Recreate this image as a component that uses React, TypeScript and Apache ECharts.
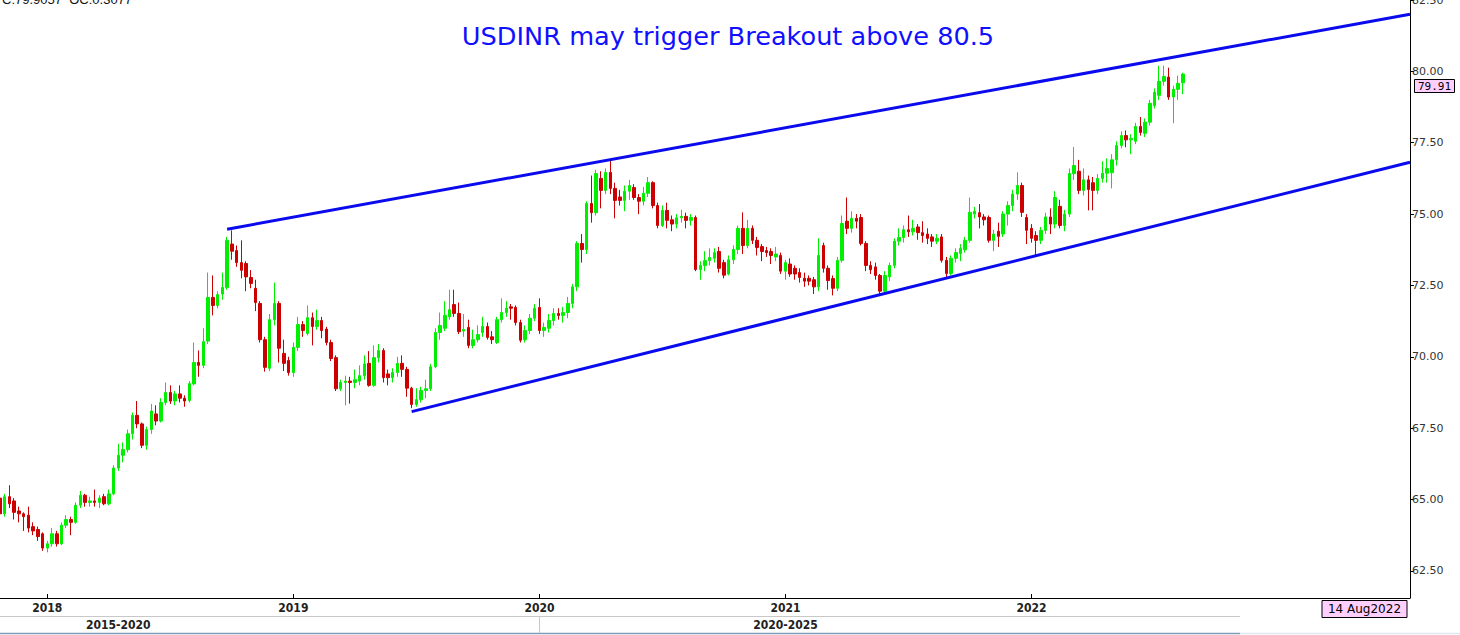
import React, { useEffect, useRef } from "react";
import * as echarts from "echarts";

const START_DATE = "2017-10-29";
const WEEK_COUNT = 299;
const headerText = "C:79.9057  OC:0.3077";
const titleText = "USDINR may trigger Breakout above 80.5";
const dateTag = "14 Aug2022";
const lastClose = 79.91;
const yTicks = [62.5, 65, 67.5, 70, 72.5, 75, 77.5, 80, 82.5];
const upperTrend = [[48, 74.47], [298, 82.0]];
const lowerTrend = [[87, 68.08], [298, 76.815]];
const periodLabels = ["2015-2020", "2020-2025"];
const periodLabelWeeks = [25, 166];
const periodBoundaryWeeks = [114];

// [open, close, low, high]
const candles: number[][] = [
  [65.05, 64.5, 64.35, 65.2], [64.5, 65.1, 64.4, 65.2], [65.1, 64.85, 64.7, 65.5], [64.95, 64.55, 64.3, 65.05],
  [64.6, 64.5, 64.2, 64.75], [64.5, 64.4, 63.9, 64.55], [64.45, 64.0, 63.85, 64.75], [64.05, 63.9, 63.75, 64.2],
  [63.95, 63.7, 63.55, 64.05], [63.8, 63.3, 63.2, 63.85], [63.3, 63.45, 63.15, 63.55], [63.45, 63.8, 63.35, 64.0],
  [63.8, 63.45, 63.35, 63.9], [63.45, 64.1, 63.4, 64.2], [64.1, 64.3, 64.0, 64.45], [64.3, 64.2, 63.75, 64.4],
  [64.2, 64.8, 64.15, 64.9], [64.8, 65.15, 64.7, 65.3], [65.15, 64.9, 64.75, 65.2], [64.9, 64.95, 64.75, 65.1],
  [64.95, 64.9, 64.75, 65.35], [64.9, 65.05, 64.7, 65.15], [65.1, 64.85, 64.8, 65.2], [64.85, 65.2, 64.8, 65.35],
  [65.2, 66.1, 65.15, 66.2], [66.1, 66.55, 66.0, 66.95], [66.55, 66.75, 66.3, 67.0], [66.75, 67.3, 66.65, 67.45],
  [67.3, 67.95, 67.1, 68.05], [67.95, 67.65, 67.5, 68.45], [67.65, 66.9, 66.8, 67.7], [66.9, 67.45, 66.75, 67.55],
  [67.45, 68.1, 67.3, 68.35], [68.0, 67.75, 67.6, 68.3], [67.75, 68.4, 67.7, 68.55], [68.4, 68.75, 68.3, 69.1],
  [68.75, 68.45, 68.35, 69.0], [68.45, 68.7, 68.3, 68.8], [68.7, 68.55, 68.4, 69.0], [68.55, 68.45, 68.25, 68.65],
  [68.47, 69.06, 68.4, 69.15], [69.05, 69.8, 69.0, 70.5], [69.8, 69.7, 69.3, 70.22], [69.7, 70.53, 69.6, 71.0],
  [70.55, 72.08, 70.45, 72.95], [72.08, 71.8, 71.45, 72.85], [71.8, 72.18, 71.7, 72.3], [72.2, 72.43, 72.0, 72.95],
  [72.43, 74.08, 72.35, 74.2], [73.95, 73.7, 73.4, 74.43], [73.72, 73.3, 73.15, 73.9], [73.3, 73.03, 72.75, 74.08],
  [73.27, 72.8, 72.3, 73.35], [72.78, 72.57, 72.4, 73.04], [72.4, 71.9, 71.6, 72.7], [71.87, 70.6, 70.5, 71.95],
  [70.6, 69.63, 69.48, 70.7], [69.6, 71.3, 69.5, 71.5], [71.3, 71.87, 71.1, 72.6], [71.87, 70.3, 69.8, 71.95],
  [70.12, 69.77, 69.5, 70.6], [69.87, 69.45, 69.34, 70.0], [69.45, 70.33, 69.3, 70.5], [70.33, 71.13, 70.2, 71.4],
  [71.13, 70.92, 70.7, 71.25], [70.82, 71.37, 70.75, 71.8], [71.37, 71.06, 70.4, 71.55], [71.06, 71.27, 70.95, 71.65],
  [71.27, 70.92, 70.65, 71.4], [70.97, 70.5, 70.4, 71.05], [70.5, 69.94, 69.85, 70.6], [69.97, 68.88, 68.8, 70.05],
  [68.88, 69.1, 68.8, 69.2], [69.1, 69.15, 68.3, 69.34], [69.15, 69.1, 68.36, 69.3], [69.1, 69.2, 68.9, 69.55],
  [69.15, 69.34, 69.0, 69.7], [69.34, 69.75, 69.2, 70.05], [69.77, 69.0, 68.95, 70.2], [69.0, 69.97, 68.95, 70.4],
  [69.97, 70.22, 69.8, 70.45], [70.22, 69.27, 69.1, 70.3], [69.4, 69.27, 69.0, 69.55], [69.27, 69.45, 69.1, 69.6],
  [69.45, 69.77, 69.3, 70.0], [69.77, 69.56, 69.3, 70.05], [69.56, 68.9, 68.6, 69.65], [68.9, 68.33, 68.2, 68.95],
  [68.33, 68.5, 68.25, 68.9], [68.5, 68.82, 68.4, 68.95], [68.82, 68.88, 68.55, 69.2], [68.88, 69.65, 68.8, 69.75],
  [69.65, 70.85, 69.6, 71.0], [70.85, 71.1, 70.6, 71.55], [71.0, 71.45, 70.9, 71.95], [71.4, 71.65, 71.3, 72.35],
  [71.83, 71.52, 71.4, 72.35], [71.52, 70.88, 70.8, 71.9], [70.9, 70.96, 70.7, 71.5], [71.03, 70.4, 70.3, 71.3],
  [70.4, 70.6, 70.3, 70.95], [70.6, 70.78, 70.5, 71.1], [70.85, 71.06, 70.7, 71.4], [71.06, 70.68, 70.6, 71.2],
  [70.7, 70.6, 70.45, 70.9], [70.5, 71.3, 70.45, 71.4], [71.3, 71.55, 71.2, 72.05], [71.55, 71.7, 71.4, 71.95],
  [71.75, 71.7, 71.3, 71.85], [71.73, 71.2, 71.1, 71.8], [71.2, 70.58, 70.5, 71.3], [70.6, 70.92, 70.5, 71.1],
  [70.92, 71.35, 70.8, 71.5], [71.35, 71.7, 71.25, 71.85], [71.73, 70.92, 70.8, 72.05], [70.92, 71.03, 70.7, 71.2],
  [71.0, 71.27, 70.85, 71.5], [71.27, 71.52, 71.1, 71.7], [71.52, 71.45, 71.3, 71.7], [71.45, 71.55, 71.2, 71.75],
  [71.55, 71.87, 71.35, 72.1], [71.87, 72.45, 71.7, 72.55], [72.45, 73.97, 72.3, 74.05], [73.97, 73.76, 73.3, 74.3],
  [73.76, 75.37, 73.6, 75.45], [75.37, 75.05, 74.7, 76.35], [75.05, 76.42, 74.95, 76.55], [76.25, 75.83, 75.2, 76.5],
  [75.83, 76.46, 75.7, 76.6], [76.46, 75.9, 75.7, 76.88], [75.9, 75.48, 74.85, 76.1], [75.6, 75.48, 75.3, 75.85],
  [75.48, 75.8, 75.1, 76.0], [75.8, 76.0, 75.5, 76.2], [75.93, 75.58, 75.5, 76.05], [75.58, 75.45, 75.0, 75.7],
  [75.45, 75.73, 75.3, 75.95], [75.73, 76.1, 75.6, 76.3], [76.1, 75.3, 75.2, 76.15], [75.3, 74.6, 74.5, 75.4],
  [74.6, 75.13, 74.55, 75.3], [75.13, 74.78, 74.5, 75.4], [74.8, 74.65, 74.4, 74.95], [74.65, 74.87, 74.5, 75.0],
  [74.87, 74.92, 74.7, 75.15], [74.92, 74.78, 74.5, 75.05], [74.78, 74.88, 74.6, 75.0], [74.88, 73.06, 73.0, 74.95],
  [73.06, 73.2, 72.7, 73.35], [73.2, 73.37, 73.0, 73.7], [73.37, 73.48, 73.2, 73.8], [73.45, 73.65, 73.3, 73.8],
  [73.69, 73.1, 72.95, 73.85], [73.3, 72.86, 72.75, 73.4], [72.9, 73.4, 72.85, 73.55], [73.4, 73.76, 73.25, 73.9],
  [73.76, 74.5, 73.6, 74.6], [74.5, 73.9, 73.6, 75.06], [73.9, 74.5, 73.8, 74.8], [74.5, 74.08, 73.95, 74.6],
  [74.08, 73.83, 73.55, 74.2], [73.86, 73.69, 73.35, 73.95], [73.72, 73.65, 73.5, 73.85], [73.69, 73.55, 73.25, 73.8],
  [73.5, 73.6, 73.35, 73.85], [73.55, 73.0, 72.9, 73.65], [73.0, 73.3, 72.7, 73.4], [73.25, 72.9, 72.8, 73.45],
  [73.1, 72.9, 72.7, 73.2], [72.95, 72.78, 72.6, 73.1], [72.75, 72.65, 72.45, 72.95], [72.75, 72.65, 72.5, 72.85],
  [72.7, 72.45, 72.2, 72.8], [72.45, 73.55, 72.3, 74.15], [73.9, 73.1, 72.95, 74.0], [73.1, 72.67, 72.35, 73.2],
  [72.74, 72.4, 72.15, 72.85], [72.4, 73.38, 72.3, 73.5], [73.38, 74.67, 73.3, 74.95], [74.75, 74.5, 74.3, 75.58],
  [74.5, 74.85, 74.35, 75.1], [74.85, 74.75, 74.5, 75.0], [74.88, 73.97, 73.9, 75.0], [73.97, 73.2, 73.0, 74.05],
  [73.2, 73.05, 72.9, 73.35], [73.15, 72.85, 72.7, 73.3], [72.85, 72.3, 72.2, 72.9], [72.3, 72.85, 72.25, 73.0],
  [72.8, 73.2, 72.65, 73.3], [73.2, 74.05, 73.1, 74.15], [74.05, 74.18, 73.9, 74.5], [74.18, 74.45, 74.0, 74.6],
  [74.45, 74.38, 74.2, 74.95], [74.38, 74.5, 74.25, 74.8], [74.55, 74.35, 74.1, 74.65], [74.35, 74.25, 74.0, 74.75],
  [74.3, 74.15, 73.95, 74.5], [74.2, 74.05, 73.85, 74.3], [74.05, 74.15, 73.95, 74.3], [74.2, 73.38, 73.3, 74.3],
  [73.38, 72.92, 72.75, 73.5], [72.92, 73.45, 72.85, 73.55], [73.45, 73.65, 73.3, 73.8], [73.62, 73.8, 73.35, 73.95],
  [73.75, 74.08, 73.65, 74.2], [74.08, 75.06, 74.0, 75.58], [75.0, 75.1, 74.85, 75.25], [75.05, 74.9, 74.5, 75.35],
  [74.9, 74.8, 74.6, 75.0], [74.88, 74.08, 74.0, 74.95], [74.08, 74.3, 73.7, 74.45], [74.4, 74.22, 73.85, 74.7],
  [74.3, 75.0, 74.2, 75.1], [75.0, 75.3, 74.6, 75.45], [75.3, 75.7, 75.1, 75.85], [75.7, 76.0, 75.5, 76.46],
  [76.0, 75.06, 74.9, 76.1], [74.88, 74.43, 73.95, 75.0], [74.5, 74.15, 74.0, 74.65], [74.25, 74.08, 73.55, 74.4],
  [74.08, 74.43, 73.95, 74.55], [74.43, 74.9, 74.3, 75.05], [74.9, 74.65, 74.3, 75.2], [74.65, 75.58, 74.5, 75.8],
  [75.27, 74.6, 74.5, 75.5], [74.6, 75.0, 74.4, 75.15], [75.0, 76.42, 74.9, 76.6], [76.42, 76.7, 76.2, 77.35],
  [76.5, 75.83, 75.7, 76.9], [75.83, 76.2, 75.65, 76.6], [76.2, 75.86, 75.13, 76.35], [76.1, 75.83, 75.13, 76.3],
  [75.83, 76.25, 75.7, 76.4], [76.25, 76.43, 76.1, 76.85], [76.43, 76.6, 76.1, 76.95], [76.45, 76.9, 75.9, 77.1],
  [76.9, 77.4, 76.7, 77.55], [77.4, 77.75, 77.3, 77.9], [77.75, 77.6, 77.34, 77.93], [77.6, 77.65, 77.1, 77.8],
  [77.55, 78.07, 77.45, 78.2], [78.07, 77.86, 77.75, 78.4], [77.83, 78.22, 77.7, 78.35], [78.22, 78.88, 78.1, 79.0],
  [78.8, 79.27, 78.7, 79.4], [79.16, 79.65, 79.0, 80.2], [79.65, 79.82, 79.5, 80.2], [79.8, 79.1, 79.0, 80.13],
  [79.1, 79.37, 78.18, 79.5], [79.37, 79.58, 79.0, 79.85], [79.598, 79.9057, 79.2, 79.95],
];

function buildWeeks(): string[] {
  const out: string[] = [];
  const d0 = new Date(START_DATE + "T00:00:00Z").getTime();
  for (let i = 0; i < WEEK_COUNT; i++) {
    const d = new Date(d0 + i * 7 * 86400000);
    out.push(d.toISOString().slice(0, 10));
  }
  return out;
}

export default function App() {
  const ref = useRef<HTMLDivElement>(null);
  useEffect(() => {
    document.body.style.margin = "0";
    if (!ref.current) return;
    const chart = echarts.init(ref.current, null, { renderer: "svg" });
    const weeks = buildWeeks();
    const isYearStart = (idx: number) =>
      idx > 0 && idx < candles.length && weeks[idx].slice(0, 4) !== weeks[idx - 1].slice(0, 4);
    const GREEN = "#00ee00";
    const RED = "#cc0000";
    const BLUE = "#0a0aee";
    chart.setOption({
      animation: false,
      backgroundColor: "#ffffff",
      grid: { left: 0, right: 50, top: 0, bottom: 37, containLabel: false, outerBoundsMode: "none" },
      xAxis: {
        type: "category",
        data: weeks,
        boundaryGap: false,
        axisLine: { show: true, lineStyle: { color: "#000", width: 1 } },
        axisTick: { show: true, interval: (i: number) => isYearStart(i), length: 4, inside: true, lineStyle: { color: "#000" } },
        axisLabel: {
          interval: (i: number) => isYearStart(i),
          formatter: (v: string) => v.slice(0, 4),
          color: "#222",
          fontWeight: "bold",
          fontSize: 12,
          fontFamily: '"Liberation Sans Narrow", "DejaVu Sans Condensed", "Liberation Sans", sans-serif',
          margin: 4,
        },
        splitLine: { show: false },
      },
      yAxis: {
        type: "value",
        position: "right",
        min: 61.55,
        max: 82.5,
        scale: true,
        axisLine: { show: true, lineStyle: { color: "#000", width: 1 } },
        axisTick: { show: true, customValues: yTicks, length: 4, lineStyle: { color: "#000" } },
        axisLabel: {
          customValues: yTicks,
          formatter: (v: number) => v.toFixed(2),
          color: "#333",
          fontSize: 11,
          fontFamily: '"DejaVu Sans", Verdana, sans-serif',
          margin: 2,
        },
        splitLine: { show: false },
      },
      series: [
        {
          type: "candlestick",
          data: candles,
          barWidth: 3,
          clip: true,
          itemStyle: { color: GREEN, color0: RED, borderColor: GREEN, borderColor0: RED, borderWidth: 1 },
        },
        {
          type: "line",
          data: upperTrend,
          symbol: "none",
          clip: true,
          lineStyle: { color: BLUE, width: 3 },
          z: 5,
        },
        {
          type: "line",
          data: lowerTrend,
          symbol: "none",
          clip: true,
          lineStyle: { color: BLUE, width: 3 },
          z: 5,
        },
      ],
    });

    const px = (i: number) => chart.convertToPixel({ xAxisIndex: 0 }, i) as number;
    const py = (v: number) => chart.convertToPixel({ yAxisIndex: 0 }, v) as number;
    const axisRight = px(WEEK_COUNT - 1);
    const graphics: any[] = [
      {
        type: "text",
        left: 2,
        top: -7,
        style: { text: headerText, fill: "#111", font: '13px "Liberation Sans", Arial, sans-serif' },
      },
      {
        type: "text",
        x: 728,
        y: 36,
        style: {
          text: titleText,
          fill: "#1010ff",
          font: '25.6px "DejaVu Sans", Verdana, sans-serif',
          align: "center",
          verticalAlign: "middle",
        },
      },
      { type: "line", shape: { x1: 0, y1: 616.5, x2: 1240, y2: 616.5 }, style: { stroke: "#c8c8c8", lineWidth: 1 } },
      { type: "line", shape: { x1: 0, y1: 633.5, x2: 1240, y2: 633.5 }, style: { stroke: "#7f9db9", lineWidth: 1.5 } },
      { type: "line", shape: { x1: 1240, y1: 633.5, x2: 1460, y2: 633.5 }, style: { stroke: "#dde8f4", lineWidth: 1.5 } },
    ];
    periodBoundaryWeeks.forEach((w) => {
      const x = Math.round(px(w)) + 0.5;
      graphics.push({ type: "line", shape: { x1: x, y1: 617, x2: x, y2: 633 }, style: { stroke: "#c8c8c8", lineWidth: 1 } });
    });
    periodLabels.forEach((t, k) => {
      graphics.push({
        type: "text",
        x: px(periodLabelWeeks[k]),
        y: 625,
        style: {
          text: t,
          fill: "#222",
          font: 'bold 12px "Liberation Sans Narrow", "DejaVu Sans Condensed", "Liberation Sans", sans-serif',
          align: "center",
          verticalAlign: "middle",
        },
      });
    });
    graphics.push({
      type: "group",
      children: [
        { type: "rect", shape: { x: axisRight - 88, y: 600.5, width: 85, height: 17 }, style: { fill: "#ffd0ff", stroke: "#000", lineWidth: 1 } },
        {
          type: "text",
          x: axisRight - 45.5,
          y: 609,
          style: { text: dateTag, fill: "#000", font: '12px "DejaVu Sans", Verdana, sans-serif', align: "center", verticalAlign: "middle" },
        },
      ],
    });
    const ly = py(lastClose) + 12;
    graphics.push({
      type: "group",
      children: [
        { type: "rect", shape: { x: axisRight + 4.5, y: Math.round(ly - 6.5) + 0.5, width: 40, height: 13 }, style: { fill: "#ffd0ff", stroke: "#000", lineWidth: 1 } },
        {
          type: "text",
          x: axisRight + 24.5,
          y: Math.round(ly - 6.5) + 7,
          style: { text: lastClose.toFixed(2), fill: "#000", font: '11px "DejaVu Sans Mono", monospace', align: "center", verticalAlign: "middle" },
        },
      ],
    });
    chart.setOption({ graphic: graphics });
    return () => chart.dispose();
  }, []);
  return <div ref={ref} style={{ width: 1460, height: 635 }} />;
}
